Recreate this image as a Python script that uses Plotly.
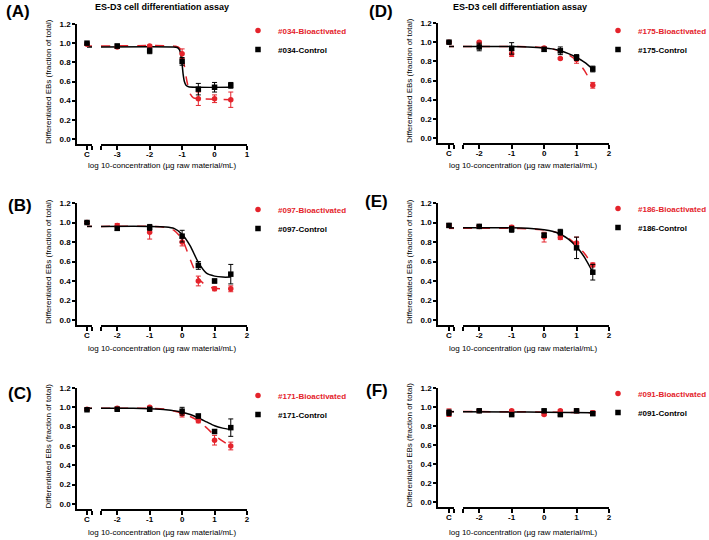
import plotly.graph_objects as go

RED = '#e4232b'
BLACK = '#000000'
FONT = 'Liberation Sans, Arial, sans-serif'

PANEL_LABELS = ['(A)', '(B)', '(C)', '(D)', '(E)', '(F)']
SAMPLE_IDS = ['#034', '#097', '#171', '#175', '#186', '#091']
TITLE = 'ES-D3 cell differentiation assay'
X_TITLE = 'log 10-concentration (µg raw material/mL)'
Y_TITLE = 'Differentiated EBs (fraction of total)'
Y_TICKS = [0.0, 0.2, 0.4, 0.6, 0.8, 1.0, 1.2]
Y_TICK_LABELS = ['0.0', '0.2', '0.4', '0.6', '0.8', '1.0', '1.2']
X_TICKS_A = [-3, -2, -1, 0, 1]
X_TICKS = [-2, -1, 0, 1, 2]
CONTROL_LABEL = 'C'

# dose levels (log10 µg/mL); first value of each series is the untreated control "C"
DOSES_A = [-3, -2, -1, -0.5, 0, 0.5]
DOSES = [-2, -1, 0, 0.5, 1, 1.5]

# Panel A (#034)
A_bio = [0.99, 0.96, 0.97, 0.89, 0.42, 0.42, 0.41]
A_bio_err = [0.01, 0.01, 0.01, 0.05, 0.07, 0.04, 0.08]
A_ctrl = [1.00, 0.97, 0.92, 0.81, 0.52, 0.54, 0.56]
A_ctrl_err = [0.01, 0.02, 0.03, 0.04, 0.06, 0.05, 0.03]
A_bio_fit_x = [-3.5, -1.2, -1.08, -1.03, -0.95, -0.85, -0.75, -0.65, -0.5, 0.5]
A_bio_fit_y = [0.97, 0.968, 0.95, 0.91, 0.80, 0.60, 0.47, 0.43, 0.42, 0.41]
A_ctrl_fit_x = [-3.5, -1.3, -1.15, -1.08, -1.03, -1.0, -0.97, -0.93, -0.88, -0.8, 0.5]
A_ctrl_fit_y = [0.96, 0.96, 0.955, 0.93, 0.86, 0.78, 0.68, 0.60, 0.56, 0.545, 0.54]

# Panel B (#097)
B_bio = [1.00, 0.97, 0.90, 0.80, 0.40, 0.32, 0.32]
B_bio_err = [0.01, 0.02, 0.07, 0.04, 0.05, 0.02, 0.03]
B_ctrl = [1.00, 0.94, 0.95, 0.86, 0.56, 0.40, 0.47]
B_ctrl_err = [0.01, 0.02, 0.03, 0.06, 0.04, 0.02, 0.10]
B_fit_x = [-2.5, -1.0, -0.5, -0.25, 0.0, 0.25, 0.5, 0.75, 1.0, 1.25, 1.5]
B_bio_fit_y = [0.96, 0.96, 0.95, 0.92, 0.83, 0.62, 0.43, 0.35, 0.325, 0.32, 0.32]
B_ctrl_fit_y = [0.96, 0.96, 0.955, 0.94, 0.88, 0.76, 0.59, 0.48, 0.45, 0.44, 0.44]

# Panel C (#171)
C_bio = [0.98, 0.99, 1.00, 0.93, 0.86, 0.66, 0.60]
C_bio_err = [0.01, 0.01, 0.01, 0.03, 0.02, 0.05, 0.04]
C_ctrl = [0.975, 0.98, 0.98, 0.96, 0.91, 0.75, 0.79]
C_ctrl_err = [0.01, 0.01, 0.01, 0.04, 0.02, 0.02, 0.09]
C_fit_x = [-2.5, -1.5, -1.0, -0.5, 0.0, 0.25, 0.5, 0.75, 1.0, 1.25, 1.5]
C_bio_fit_y = [0.99, 0.99, 0.99, 0.98, 0.94, 0.905, 0.86, 0.79, 0.71, 0.65, 0.60]
C_ctrl_fit_y = [0.99, 0.99, 0.985, 0.975, 0.95, 0.925, 0.89, 0.85, 0.81, 0.785, 0.77]

# Panel D (#175)
D_bio = [1.00, 1.00, 0.88, 0.94, 0.83, 0.82, 0.55]
D_bio_err = [0.01, 0.01, 0.03, 0.01, 0.01, 0.04, 0.03]
D_ctrl = [1.00, 0.95, 0.935, 0.925, 0.91, 0.84, 0.72]
D_ctrl_err = [0.01, 0.04, 0.06, 0.02, 0.04, 0.03, 0.03]
D_fit_x = [-2.5, -1.0, -0.5, 0.0, 0.25, 0.5, 0.75, 1.0, 1.25, 1.5]
D_bio_fit_y = [0.955, 0.955, 0.953, 0.945, 0.93, 0.905, 0.87, 0.81, 0.70, 0.55]
D_ctrl_fit_y = [0.955, 0.955, 0.95, 0.94, 0.93, 0.91, 0.88, 0.84, 0.79, 0.72]

# Panel E (#186)
E_bio = [0.97, 0.96, 0.95, 0.85, 0.845, 0.79, 0.565]
E_bio_err = [0.01, 0.01, 0.02, 0.05, 0.02, 0.06, 0.02]
E_ctrl = [0.97, 0.96, 0.93, 0.87, 0.90, 0.74, 0.49]
E_ctrl_err = [0.02, 0.01, 0.03, 0.02, 0.03, 0.11, 0.08]
E_fit_x = [-2.5, -1.0, -0.5, 0.0, 0.25, 0.5, 0.75, 1.0, 1.25, 1.5]
E_bio_fit_y = [0.94, 0.94, 0.935, 0.925, 0.91, 0.885, 0.84, 0.77, 0.68, 0.56]
E_ctrl_fit_y = [0.945, 0.945, 0.94, 0.925, 0.91, 0.88, 0.83, 0.75, 0.64, 0.49]

# Panel F (#091)
F_bio = [0.94, 0.96, 0.96, 0.92, 0.96, 0.96, 0.94]
F_bio_err = [0.04, 0.01, 0.01, 0.01, 0.01, 0.01, 0.02]
F_ctrl = [0.94, 0.96, 0.92, 0.96, 0.92, 0.96, 0.93]
F_ctrl_err = [0.03, 0.01, 0.01, 0.01, 0.01, 0.01, 0.02]
F_fit_x = [-2.5, -1.0, 0.0, 1.5]
F_bio_fit_y = [0.952, 0.95, 0.947, 0.94]
F_ctrl_fit_y = [0.95, 0.948, 0.945, 0.94]

panels = [
    dict(doses=DOSES_A, bio=A_bio, bio_err=A_bio_err, ctrl=A_ctrl, ctrl_err=A_ctrl_err,
         bfx=A_bio_fit_x, bfy=A_bio_fit_y, cfx=A_ctrl_fit_x, cfy=A_ctrl_fit_y, ticks=X_TICKS_A),
    dict(doses=DOSES, bio=B_bio, bio_err=B_bio_err, ctrl=B_ctrl, ctrl_err=B_ctrl_err,
         bfx=B_fit_x, bfy=B_bio_fit_y, cfx=B_fit_x, cfy=B_ctrl_fit_y, ticks=X_TICKS),
    dict(doses=DOSES, bio=C_bio, bio_err=C_bio_err, ctrl=C_ctrl, ctrl_err=C_ctrl_err,
         bfx=C_fit_x, bfy=C_bio_fit_y, cfx=C_fit_x, cfy=C_ctrl_fit_y, ticks=X_TICKS),
    dict(doses=DOSES, bio=D_bio, bio_err=D_bio_err, ctrl=D_ctrl, ctrl_err=D_ctrl_err,
         bfx=D_fit_x, bfy=D_bio_fit_y, cfx=D_fit_x, cfy=D_ctrl_fit_y, ticks=X_TICKS),
    dict(doses=DOSES, bio=E_bio, bio_err=E_bio_err, ctrl=E_ctrl, ctrl_err=E_ctrl_err,
         bfx=E_fit_x, bfy=E_bio_fit_y, cfx=E_fit_x, cfy=E_ctrl_fit_y, ticks=X_TICKS),
    dict(doses=DOSES, bio=F_bio, bio_err=F_bio_err, ctrl=F_ctrl, ctrl_err=F_ctrl_err,
         bfx=F_fit_x, bfy=F_bio_fit_y, cfx=F_fit_x, cfy=F_ctrl_fit_y, ticks=X_TICKS),
]

# geometry in pixels (layout only)
W, H = 709, 540
geo = [
    dict(yx=77, cend=92, mstart=101, mend=247, top=24, bot=144, mrange=[-3.5, 1], crange=[-2, 1]),
    dict(yx=77, cend=92, mstart=101, mend=247, top=203, bot=325, mrange=[-2.5, 2], crange=[-2, 1]),
    dict(yx=77, cend=92, mstart=101, mend=247, top=388, bot=509, mrange=[-2.5, 2], crange=[-2, 1]),
    dict(yx=438, cend=454, mstart=463, mend=609, top=23, bot=143, mrange=[-2.5, 2], crange=[-2.2, 1]),
    dict(yx=438, cend=454, mstart=463, mend=609, top=203, bot=325, mrange=[-2.5, 2], crange=[-2.2, 1]),
    dict(yx=438, cend=454, mstart=463, mend=609, top=388, bot=507, mrange=[-2.5, 2], crange=[-2.2, 1]),
]
legend_pos = [(238, 16), (238, 195), (238, 381), (598, 16), (598, 194), (598, 379)]
label_pos = [(18, 11), (20, 205), (20, 393), (381, 11), (377, 201), (377, 390)]
xtitle_y = [166, 348, 532, 165, 348, 532]

fig = go.Figure()
layout = dict(width=W, height=H, margin=dict(l=0, r=0, t=0, b=0, autoexpand=False),
              paper_bgcolor='white', plot_bgcolor='white',
              font=dict(family=FONT, color='black'), annotations=[])

def px_x(v):
    return v / W

def px_y(v):
    return 1 - v / H

def note(text, x, y, size, angle=0):
    return dict(text=text, x=px_x(x), y=px_y(y), xref='paper', yref='paper', showarrow=False,
                xanchor='center', yanchor='middle', textangle=angle,
                font=dict(family=FONT, size=size, color='black'))

tickfont = dict(family=FONT, size=8, color='black', weight='bold')

for i, (p, g) in enumerate(zip(panels, geo)):
    cx = 'x%d' % (2 * i + 1) if i > 0 else 'x'
    mx = 'x%d' % (2 * i + 2)
    yy = 'y%d' % (i + 1) if i > 0 else 'y'
    leg = 'legend%d' % (i + 1) if i > 0 else 'legend'
    ylo = -5 * 1.2 / (g['bot'] - g['top'] - 5)
    ydom = [px_y(g['bot']), px_y(g['top'])]
    axl = dict(showline=True, linecolor='black', linewidth=1.5, ticks='outside',
               ticklen=4, tickwidth=1.5, tickcolor='black', showgrid=False,
               zeroline=False, tickfont=tickfont, fixedrange=True)
    layout['xaxis%d' % (2 * i + 1)] = dict(axl, domain=[px_x(g['yx']), px_x(g['cend'])],
                                          range=g['crange'], anchor=yy, ticklabelstandoff=-2,
                                          tickvals=[0, g['crange'][1]], ticktext=[CONTROL_LABEL, ''])
    layout['xaxis%d' % (2 * i + 2)] = dict(axl, domain=[px_x(g['mstart']), px_x(g['mend'])],
                                          range=g['mrange'], anchor=yy, ticklabelstandoff=-2,
                                          tickvals=[g['mrange'][0]] + p['ticks'],
                                          ticktext=[''] + [str(t) for t in p['ticks']])
    layout['yaxis%d' % (i + 1)] = dict(axl, domain=ydom, range=[ylo, 1.2], anchor=cx,
                                      tickvals=Y_TICKS, ticktext=Y_TICK_LABELS, ticklen=3)

    sid = SAMPLE_IDS[i]
    for fx, fy, col, dash in [(p['bfx'], p['bfy'], RED, 'dash'), (p['cfx'], p['cfy'], BLACK, 'solid')]:
        fig.add_trace(go.Scatter(x=[0, g['crange'][1]], y=[fy[0], fy[0]], xaxis=cx, yaxis=yy,
                                 mode='lines', line=dict(color=col, width=1.5, dash=dash),
                                 showlegend=False, hoverinfo='skip'))
        fig.add_trace(go.Scatter(x=fx, y=fy, xaxis=mx, yaxis=yy, mode='lines',
                                 line=dict(color=col, width=1.5, dash=dash, shape='spline', smoothing=0.6),
                                 showlegend=False, hoverinfo='skip'))
    for vals, errs, col, sym, name in [
        (p['bio'], p['bio_err'], RED, 'circle',
         '<span style="color:%s"><b>%s-Bioactivated</b></span>' % (RED, sid)),
        (p['ctrl'], p['ctrl_err'], BLACK, 'square', '<b>%s-Control</b>' % sid)]:
        ebar = dict(type='data', array=errs[1:], color=col, thickness=1, width=2.5)
        fig.add_trace(go.Scatter(x=[0], y=vals[:1], xaxis=cx, yaxis=yy, mode='markers',
                                 marker=dict(color=col, symbol=sym, size=5.5),
                                 error_y=dict(ebar, array=errs[:1]), showlegend=False))
        fig.add_trace(go.Scatter(x=p['doses'], y=vals[1:], xaxis=mx, yaxis=yy, mode='markers',
                                 marker=dict(color=col, symbol=sym, size=5.5),
                                 error_y=ebar, name=name, legend=leg, showlegend=True))
    lx, ly = legend_pos[i]
    layout[leg] = dict(x=px_x(lx), y=px_y(ly), xanchor='left', yanchor='top',
                       bgcolor='rgba(0,0,0,0)', font=dict(family=FONT, size=8, color='black'),
                       tracegroupgap=0, itemclick=False)

    midx = (g['yx'] + g['mend']) / 2
    layout['annotations'].append(note(X_TITLE, midx, xtitle_y[i], 8))
    layout['annotations'].append(note(Y_TITLE, g['yx'] - 29, (g['top'] + g['bot']) / 2 - 2, 8, -90))
    lbx, lby = label_pos[i]
    layout['annotations'].append(note('<b>%s</b>' % PANEL_LABELS[i], lbx, lby, 17))

for tx in [162, 520]:
    layout['annotations'].append(note('<b>%s</b>' % TITLE, tx, 7, 9))

fig.update_layout(**layout)
fig.write_html('out.html', config={'displayModeBar': False},
               post_script="document.body.style.margin='0';document.body.style.padding='0';")
